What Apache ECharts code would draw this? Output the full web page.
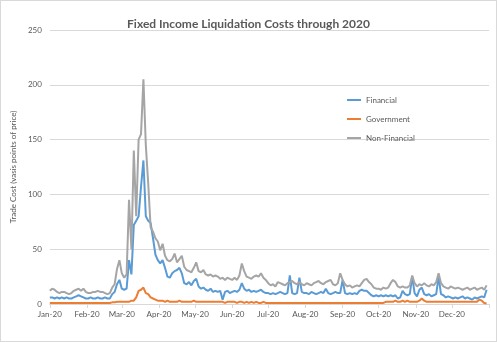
<!DOCTYPE html>
<html><head><meta charset="utf-8">
<script src="https://cdn.jsdelivr.net/npm/echarts@6/dist/echarts.min.js"></script>
<style>html,body{margin:0;padding:0;background:#fff}#c{width:497px;height:342px;box-sizing:border-box;border:1px solid #d9d9d9}</style>
</head><body><div id="c"></div>
<script>
// Month tick labels and their day-of-year positions (2020)
const monthLabels = ['Jan-20','Feb-20','Mar-20','Apr-20','May-20','Jun-20','Jul-20','Aug-20','Sep-20','Oct-20','Nov-20','Dec-20'];
const monthStarts = [0,31,60,91,121,152,182,213,244,274,305,335];
const stepDays = 2; // one sample every 2 calendar days from Jan 1

const financial = [
  /*Jan*/ 6,6,5,6,5,6,5,6,5,5,6,7,8,7,6,5,
  /*Feb*/ 5,6,5,5,6,5,5,6,5,5,9,11,18,22,
  /*Mar*/ 14,13,14,40,27,72,76,80,107,131,80,76,74,60,45,40,
  /*Apr*/ 37,40,33,25,24,28,30,31,33,28,19,18,20,17,21,
  /*May*/ 23,16,14,15,13,12,14,11,12,11,12,4,11,12,10,
  /*Jun*/ 11,12,11,13,19,14,12,13,11,12,11,12,13,11,10,
  /*Jul*/ 10,9,10,9,10,11,10,9,10,26,10,9,10,24,11,10,
  /*Aug*/ 10,9,11,10,9,10,11,10,14,10,9,10,11,10,10,
  /*Sep*/ 22,10,9,10,9,10,9,12,13,12,12,10,8,7,8,
  /*Oct*/ 7,8,7,8,7,8,7,8,5,6,12,9,8,9,25,10,
  /*Nov*/ 7,13,15,9,8,9,7,8,9,25,9,8,6,7,6,
  /*Dec*/ 5,6,5,6,7,5,6,5,4,6,5,6,7,6,13
];
const government = [
  /*Jan*/ 1,1,1,1,1,1,1,1,1,1,1,1,1,1,1,1,
  /*Feb*/ 1,1,1,1,1,1,1,1,1,1,1.5,1.5,2,2,
  /*Mar*/ 2,2,2,2,3,3,6,12,13,15,10,9,6,5,4,3,
  /*Apr*/ 3,3,2,3,2,2,2,2,3,2,2,2,2,2,3,
  /*May*/ 2,2,2,2,2,2,2,2,2,2,2,2,1,2,2,
  /*Jun*/ 2,2,1,2,2,1,2,1,2,1,2,1,1,2,1,
  /*Jul*/ 1,1,1,1,1,1,1,1,1,1,1,1,1,1,1,1,
  /*Aug*/ 1,1,1,1,1,1,1,1,1,1,1,1,1,1,1,
  /*Sep*/ 1,1,1,1,1,1,1,1,1,1,1,1,1,1,1,
  /*Oct*/ 1,1,1,2,2,2,2,3,2,2,3,2,3,2,2,2,
  /*Nov*/ 2,3,5,3,2,2,2,2,2,2,2,2,2,2,2,
  /*Dec*/ 2,2,2,2,2,2,2,2,2,2,2,4,3,1,0.5
];
const nonFinancial = [
  /*Jan*/ 12,14,13,11,10,11,11,10,9,10,12,13,14,12,14,11,
  /*Feb*/ 10,10,11,11,12,11,11,10,9,10,15,18,32,40,
  /*Mar*/ 28,24,27,95,50,140,80,150,155,205,145,110,70,66,60,57,
  /*Apr*/ 49,55,44,40,39,41,46,38,41,44,34,31,30,29,33,
  /*May*/ 38,30,29,31,27,26,27,25,26,25,23,24,22,24,23,
  /*Jun*/ 22,24,22,26,37,30,25,24,23,25,26,25,28,24,22,
  /*Jul*/ 19,17,18,16,20,19,18,17,19,20,21,19,18,20,18,17,
  /*Aug*/ 19,18,17,19,20,21,19,18,20,21,22,18,17,19,28,
  /*Sep*/ 22,18,16,17,15,16,17,16,19,22,23,20,18,15,14,
  /*Oct*/ 14,13,15,14,15,19,22,20,16,15,16,15,15,17,26,19,
  /*Nov*/ 16,18,17,19,17,16,18,17,20,28,19,16,15,14,16,
  /*Dec*/ 15,14,15,14,13,14,15,13,14,15,13,14,15,13,17
];
const seriesNames = ['Financial','Government','Non-Financial'];
const seriesColors = ['#5b9bd5','#ed7d31','#a5a5a5'];

const toPairs = arr => arr.map((v, i) => [i * stepDays, v]);
const allData = [financial, government, nonFinancial];
const font = 'Lato, "Open Sans", sans-serif';
const txt = '#595959';

const chart = echarts.init(document.getElementById('c'), null, {renderer: 'canvas'});
chart.setOption({
  animation: false,
  backgroundColor: '#fff',
  textStyle: {fontFamily: font},
  title: {
    text: 'Fixed Income Liquidation Costs through 2020',
    left: 'center', top: 12,
    textStyle: {fontFamily: font, fontSize: 12, fontWeight: 'bold', color: txt}
  },
  legend: {
    orient: 'vertical', left: 341, top: 89,
    itemWidth: 14, itemHeight: 2, itemGap: 9, icon: 'rect',
    textStyle: {fontFamily: font, fontSize: 8, color: txt, lineHeight: 10},
    data: seriesNames
  },
  grid: {left: 41, right: 7, top: 29, bottom: 37, containLabel: false},
  xAxis: {
    type: 'value', min: 0, max: 366,
    axisLine: {show: true, lineStyle: {color: '#d9d9d9'}},
    axisTick: {show: true, customValues: monthStarts.concat([366]), length: 4, lineStyle: {color: '#d9d9d9'}},
    axisLabel: {
      customValues: monthStarts, margin: 6,
      fontFamily: font, fontSize: 8, color: txt,
      formatter: v => monthLabels[monthStarts.indexOf(v)] || ''
    },
    splitLine: {show: false}
  },
  yAxis: {
    type: 'value', min: 0, max: 250, interval: 50,
    name: 'Trade Cost (vasis points of price)',
    nameLocation: 'middle', nameGap: 26,
    nameTextStyle: {fontFamily: font, fontSize: 8, color: txt},
    axisLine: {show: false}, axisTick: {show: false},
    axisLabel: {fontFamily: font, fontSize: 8, color: txt, margin: 8},
    splitLine: {lineStyle: {color: '#d9d9d9', width: 1}}
  },
  series: allData.map((arr, k) => ({
    name: seriesNames[k], type: 'line', showSymbol: false,
    data: toPairs(arr),
    lineStyle: {width: 2, color: seriesColors[k]},
    itemStyle: {color: seriesColors[k]},
    z: 2 + k
  }))
});
</script></body></html>
